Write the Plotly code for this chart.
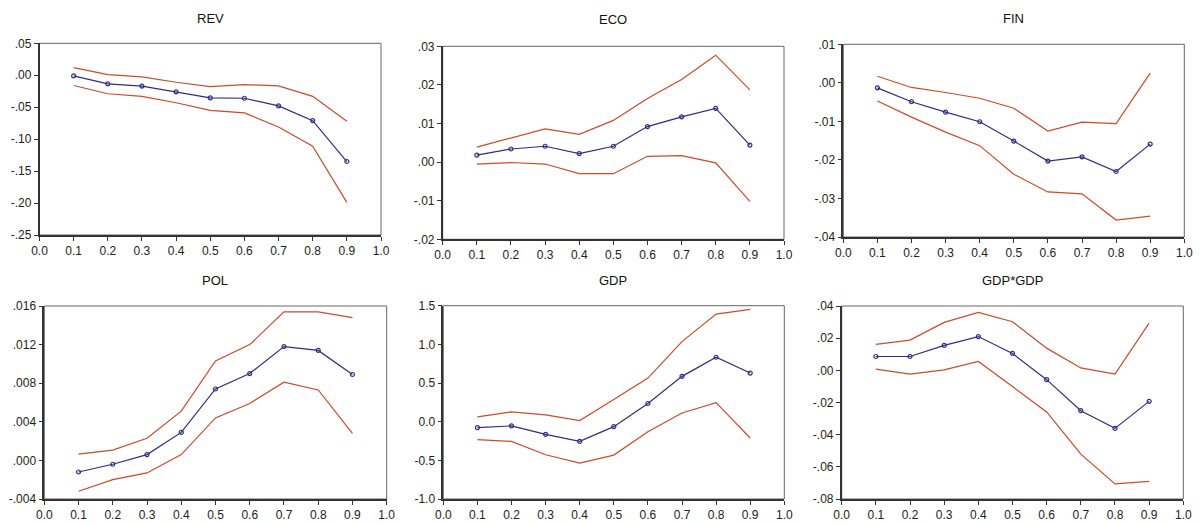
import plotly.graph_objects as go

W, H = 1201, 524
x = [0.1, 0.2, 0.3, 0.4, 0.5, 0.6, 0.7, 0.8, 0.9]

titles = ["REV", "ECO", "FIN", "POL", "GDP", "GDP*GDP"]

rev_mean = [-0.001, -0.0136, -0.017, -0.026, -0.0355, -0.036, -0.048, -0.071, -0.135]
rev_up = [0.012, 0.001, -0.0026, -0.011, -0.0177, -0.0146, -0.0167, -0.033, -0.072]
rev_lo = [-0.016, -0.029, -0.033, -0.043, -0.055, -0.059, -0.081, -0.111, -0.199]

eco_mean = [0.0018, 0.0034, 0.0041, 0.0022, 0.0041, 0.0092, 0.0117, 0.0139, 0.0044]
eco_up = [0.0039, 0.0063, 0.0086, 0.0072, 0.0108, 0.0165, 0.0214, 0.0277, 0.0187]
eco_lo = [-0.0005, -0.0001, -0.0005, -0.003, -0.003, 0.0015, 0.0017, -0.0002, -0.0102]

fin_mean = [-0.0013, -0.0049, -0.0076, -0.0101, -0.0151, -0.0203, -0.0192, -0.023, -0.0159]
fin_up = [0.0017, -0.0012, -0.0025, -0.004, -0.0066, -0.0125, -0.0102, -0.0106, 0.0025]
fin_lo = [-0.0047, -0.0089, -0.0128, -0.0163, -0.0237, -0.0283, -0.0288, -0.0356, -0.0346]

pol_mean = [-0.0012, -0.0004, 0.0006, 0.0029, 0.0074, 0.009, 0.0118, 0.0114, 0.0089]
pol_up = [0.00064, 0.00106, 0.0023, 0.0051, 0.0103, 0.012, 0.0154, 0.0154, 0.0148]
pol_lo = [-0.0032, -0.002, -0.0013, 0.0006, 0.0044, 0.0059, 0.0081, 0.0073, 0.0028]

gdp_mean = [-0.077, -0.055, -0.164, -0.255, -0.064, 0.235, 0.586, 0.833, 0.629]
gdp_up = [0.062, 0.127, 0.088, 0.014, 0.287, 0.564, 1.036, 1.391, 1.452]
gdp_lo = [-0.233, -0.255, -0.428, -0.536, -0.432, -0.129, 0.113, 0.247, -0.211]

gdp2_mean = [0.0086, 0.0086, 0.0155, 0.021, 0.0105, -0.0058, -0.0251, -0.0361, -0.0193]
gdp2_up = [0.0161, 0.0188, 0.0298, 0.036, 0.0302, 0.0138, 0.0015, -0.0024, 0.0294]
gdp2_lo = [0.0007, -0.0024, 0.0003, 0.0055, -0.0101, -0.0259, -0.0521, -0.0706, -0.069]

x_tickvals = [0.0, 0.1, 0.2, 0.3, 0.4, 0.5, 0.6, 0.7, 0.8, 0.9, 1.0]
x_ticktext = ["0.0", "0.1", "0.2", "0.3", "0.4", "0.5", "0.6", "0.7", "0.8", "0.9", "1.0"]

rev_ticks = [0.05, 0.0, -0.05, -0.10, -0.15, -0.20, -0.25]
rev_labels = [".05", ".00", "-.05", "-.10", "-.15", "-.20", "-.25"]
eco_ticks = [0.03, 0.02, 0.01, 0.0, -0.01, -0.02]
eco_labels = [".03", ".02", ".01", ".00", "-.01", "-.02"]
fin_ticks = [0.01, 0.0, -0.01, -0.02, -0.03, -0.04]
fin_labels = [".01", ".00", "-.01", "-.02", "-.03", "-.04"]
pol_ticks = [0.016, 0.012, 0.008, 0.004, 0.0, -0.004]
pol_labels = [".016", ".012", ".008", ".004", ".000", "-.004"]
gdp_ticks = [1.5, 1.0, 0.5, 0.0, -0.5, -1.0]
gdp_labels = ["1.5", "1.0", "0.5", "0.0", "-0.5", "-1.0"]
gdp2_ticks = [0.04, 0.02, 0.0, -0.02, -0.04, -0.06, -0.08]
gdp2_labels = [".04", ".02", ".00", "-.02", "-.04", "-.06", "-.08"]

panels = [
    (rev_mean, rev_up, rev_lo, rev_ticks, rev_labels, [-0.25, 0.05]),
    (eco_mean, eco_up, eco_lo, eco_ticks, eco_labels, [-0.02, 0.03]),
    (fin_mean, fin_up, fin_lo, fin_ticks, fin_labels, [-0.04, 0.01]),
    (pol_mean, pol_up, pol_lo, pol_ticks, pol_labels, [-0.004, 0.016]),
    (gdp_mean, gdp_up, gdp_lo, gdp_ticks, gdp_labels, [-1.0, 1.5]),
    (gdp2_mean, gdp2_up, gdp2_lo, gdp2_ticks, gdp2_labels, [-0.08, 0.04]),
]

# pixel boxes (left, right, top, bottom)
boxes = [
    (39.5, 381, 43.3, 235),
    (442.7, 784, 46.3, 239.3),
    (843.3, 1184.3, 44.3, 237),
    (44.3, 386.7, 306, 499),
    (443.3, 784.3, 305.7, 499),
    (841.7, 1183.3, 306, 499),
]
title_pos = [(210, 18), (613, 20), (1013, 18), (215, 280), (613, 280), (1012, 280)]

RED = "#cf4a2a"
BLUE = "#2d2d88"
font = "Liberation Sans, Arial, sans-serif"

fig = go.Figure()
layout = dict(
    width=W, height=H, margin=dict(l=0, r=0, t=0, b=0, autoexpand=False),
    paper_bgcolor="white", plot_bgcolor="white", showlegend=False,
    font=dict(family=font, size=12, color="#222222"),
)
annotations = []
shapes = []
for i, (mean, up, lo, yt, yl, yr) in enumerate(panels):
    n = "" if i == 0 else str(i + 1)
    xa, ya = "x" + n, "y" + n
    for series in (up, lo):
        fig.add_trace(go.Scatter(x=x, y=series, mode="lines", xaxis=xa, yaxis=ya,
                                 line=dict(color=RED, width=1.2), cliponaxis=False))
    fig.add_trace(go.Scatter(x=x, y=mean, mode="lines+markers", xaxis=xa, yaxis=ya,
                             line=dict(color=BLUE, width=1.2), cliponaxis=False,
                             marker=dict(symbol="circle-open", size=4, color=BLUE,
                                         line=dict(width=1.2, color=BLUE))))
    l, r, t, b = boxes[i]
    layout["xaxis" + n] = dict(
        domain=[l / W, r / W], anchor=ya, range=[0, 1.0], automargin=False,
        tickvals=x_tickvals, ticktext=x_ticktext, ticks="outside", ticklen=4,
        tickwidth=1, tickcolor="#333", showgrid=False, zeroline=False,
        showline=True, linecolor="#333", linewidth=1.5,
        tickfont=dict(size=12, family=font, color="#222"),
    )
    layout["yaxis" + n] = dict(
        domain=[1 - b / H, 1 - t / H], anchor=xa, range=yr, automargin=False,
        tickvals=yt, ticktext=yl, ticks="outside", ticklen=4,
        tickwidth=1, tickcolor="#333", showgrid=False, zeroline=False,
        showline=True, linecolor="#333", linewidth=1.5,
        tickfont=dict(size=12, family=font, color="#222"),
    )
    shapes.append(dict(type="rect", xref=xa + " domain", yref=ya + " domain",
                       x0=0, x1=1, y0=0, y1=1, line=dict(color="#666", width=1),
                       layer="below"))
    tx, ty = title_pos[i]
    annotations.append(dict(text=titles[i], x=tx / W, y=1 - ty / H, xref="paper",
                            yref="paper", showarrow=False, xanchor="center",
                            yanchor="middle", font=dict(size=13, family=font, color="#111")))

layout["annotations"] = annotations
layout["shapes"] = shapes
fig.update_layout(**layout)
fig.write_html("out.html", config={"displayModeBar": False},
               post_script="document.body.style.margin='0';document.body.style.overflow='hidden';")
